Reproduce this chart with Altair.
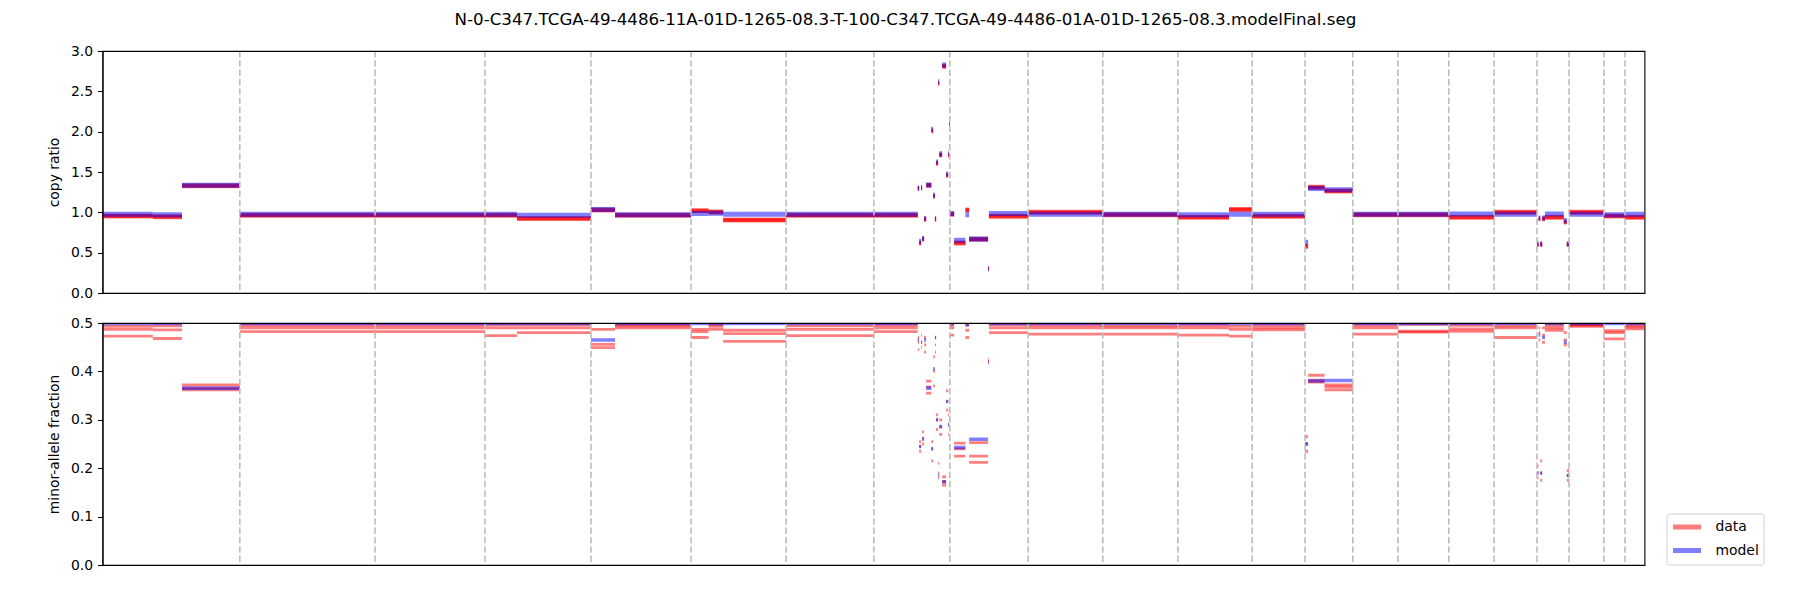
import altair as alt
import pandas as pd

TITLE = "N-0-C347.TCGA-49-4486-11A-01D-1265-08.3-T-100-C347.TCGA-49-4486-01A-01D-1265-08.3.modelFinal.seg"

# chromosome boundaries (cumulative genomic position, Mb) - starts of chr2..chr22
chrom_bounds = [249.2, 494.6, 694.0, 886.4, 1068.1, 1240.5, 1399.8, 1537.6, 1679.7,
                1815.2, 1951.5, 2086.2, 2182.2, 2268.9, 2350.8, 2443.1, 2525.2,
                2603.1, 2661.3, 2724.5, 2762.8]
genome_end = 2798.2

seg_start = [0.0, 91.2, 144.3, 249.2, 494.6, 694.0, 752.1, 886.4, 930.1, 1068.1,
             1099.8, 1126.3, 1240.5, 1399.8, 1479.4, 1481.9, 1485.5, 1487.3, 1490.9, 1494.6,
             1504.0, 1507.3, 1510.6, 1512.7, 1516.3, 1518.4, 1523.6, 1530.8, 1534.5, 1536.3,
             1537.6, 1545.4, 1565.9, 1572.6, 1607.0, 1608.5, 1679.7, 1815.2, 1951.5, 2044.2,
             2086.2, 2182.2, 2187.7, 2217.6, 2268.9, 2350.8, 2443.1, 2525.2, 2603.1, 2606.0,
             2609.0, 2612.5, 2617.5, 2651.7, 2657.2, 2661.3, 2724.5, 2762.8]
seg_end = [91.2, 144.3, 249.2, 494.6, 694.0, 752.1, 886.4, 930.1, 1068.1, 1099.8,
           1126.3, 1240.5, 1399.8, 1479.4, 1481.9, 1485.5, 1487.3, 1490.9, 1494.6, 1504.0,
           1507.3, 1510.6, 1512.7, 1516.3, 1518.4, 1523.6, 1530.8, 1534.5, 1536.3, 1537.6,
           1545.4, 1565.9, 1572.6, 1607.0, 1608.5, 1679.7, 1815.2, 1951.5, 2044.2, 2086.2,
           2182.2, 2187.7, 2217.6, 2268.9, 2350.8, 2443.1, 2525.2, 2603.1, 2606.0, 2609.0,
           2612.5, 2617.5, 2651.7, 2657.2, 2661.3, 2724.5, 2762.8, 2798.2]
cr_data = [0.955, 0.945, 1.330, 0.965, 0.965, 0.965, 0.925, 1.030, 0.965, 1.020,
           1.005, 0.905, 0.965, 0.965, 1.300, 0.620, 1.300, 0.670, 0.915, 1.335,
           2.010, 1.200, 0.915, 1.610, 2.600, 1.710, 2.810, 1.460, 1.710, 2.100,
           0.975, 0.620, 1.030, 0.665, 0.300, 0.950, 1.000, 0.970, 0.940, 1.035,
           0.950, 0.580, 1.310, 1.265, 0.970, 0.970, 0.940, 1.000, 0.600, 0.920,
           0.600, 0.920, 0.940, 0.880, 0.600, 1.000, 0.955, 0.940]
cr_model = [0.975, 0.970, 1.335, 0.975, 0.975, 0.975, 0.965, 1.035, 0.970, 0.985,
            0.990, 0.975, 0.975, 0.975, 1.300, 0.640, 1.310, 0.675, 0.925, 1.340,
            2.030, 1.215, 0.925, 1.625, 2.620, 1.725, 2.825, 1.475, 1.725, 2.115,
            0.985, 0.655, 0.970, 0.670, 0.300, 0.985, 0.975, 0.975, 0.970, 0.975,
            0.975, 0.630, 1.295, 1.280, 0.975, 0.975, 0.980, 0.975, 0.610, 0.930,
            0.610, 0.930, 0.980, 0.900, 0.610, 0.975, 0.970, 0.975]
maf_model = [0.499, 0.499, 0.365, 0.499, 0.499, 0.499, 0.499, 0.465, 0.499, 0.499,
             0.499, 0.499, 0.499, 0.499, 0.465, 0.245, 0.460, 0.260, 0.465, 0.365,
             0.240, 0.405, 0.470, 0.300, 0.185, 0.286, 0.172, 0.338, 0.290, 0.260,
             0.499, 0.243, 0.497, 0.260, 0.420, 0.499, 0.499, 0.499, 0.499, 0.499,
             0.499, 0.250, 0.380, 0.381, 0.499, 0.499, 0.499, 0.499, 0.190, 0.475,
             0.190, 0.470, 0.499, 0.460, 0.185, 0.499, 0.499, 0.499]
maf_d10 = [0.473, 0.468, 0.362, 0.482, 0.482, 0.474, 0.480, 0.449, 0.490, 0.470,
           0.487, 0.462, 0.474, 0.482, 0.445, 0.235, 0.450, 0.250, 0.440, 0.355,
           0.215, 0.370, 0.440, 0.280, 0.180, 0.270, 0.165, 0.320, 0.270, 0.240,
           0.475, 0.225, 0.470, 0.212, 0.418, 0.480, 0.477, 0.477, 0.475, 0.473,
           0.486, 0.235, 0.378, 0.362, 0.477, 0.481, 0.483, 0.470, 0.180, 0.465,
           0.175, 0.460, 0.485, 0.455, 0.175, 0.493, 0.467, 0.488]
maf_d50 = [0.487, 0.486, 0.366, 0.490, 0.490, 0.490, 0.490, 0.456, 0.494, 0.482,
           0.493, 0.478, 0.487, 0.490, 0.460, 0.245, 0.460, 0.262, 0.455, 0.368,
           0.240, 0.400, 0.455, 0.300, 0.190, 0.285, 0.172, 0.338, 0.290, 0.260,
           0.490, 0.240, 0.485, 0.225, 0.420, 0.490, 0.490, 0.490, 0.490, 0.487,
           0.490, 0.250, 0.382, 0.368, 0.490, 0.483, 0.488, 0.490, 0.190, 0.480,
           0.190, 0.475, 0.490, 0.465, 0.185, 0.495, 0.480, 0.492]
maf_d90 = [0.493, 0.494, 0.372, 0.495, 0.495, 0.496, 0.496, 0.487, 0.497, 0.487,
           0.497, 0.485, 0.494, 0.495, 0.470, 0.255, 0.475, 0.275, 0.470, 0.380,
           0.255, 0.430, 0.470, 0.310, 0.210, 0.300, 0.182, 0.360, 0.310, 0.280,
           0.495, 0.252, 0.495, 0.253, 0.425, 0.496, 0.495, 0.494, 0.495, 0.493,
           0.495, 0.265, 0.392, 0.372, 0.495, 0.497, 0.495, 0.494, 0.205, 0.490,
           0.215, 0.490, 0.495, 0.480, 0.195, 0.497, 0.484, 0.495]

cr_ticks = [0.0, 0.5, 1.0, 1.5, 2.0, 2.5, 3.0]
maf_ticks = [0.0, 0.1, 0.2, 0.3, 0.4, 0.5]

segs = pd.DataFrame({
    "start": seg_start, "end": seg_end,
    "cr_d": cr_data, "cr_m": cr_model,
    "maf_m": maf_model, "d10": maf_d10, "d50": maf_d50, "d90": maf_d90,
})
bounds_df = pd.DataFrame({"pos": chrom_bounds})

W, H = 1542, 242
FONT = "DejaVu Sans"
FS = 13.9
xs = alt.Scale(domain=[0, genome_end], nice=False, zero=False)
xaxis = alt.Axis(orient="top", labels=False, ticks=False, title=None, grid=False,
                 domainColor="black", domainWidth=1.1, zindex=1)


def yaxis(title, vals):
    return alt.Axis(title=title, values=vals, format=".1f", grid=False,
                    tickColor="black", tickSize=5, tickWidth=1.1,
                    domainColor="black", domainWidth=1.1, labelPadding=5,
                    labelColor="black", titleColor="black", zindex=1, titlePadding=9,
                    labelFont=FONT, labelFontSize=FS, titleFont=FONT, titleFontSize=FS,
                    titleFontWeight="normal")


def vlines():
    return alt.Chart(bounds_df).mark_rule(
        color="#bdbdbd", strokeWidth=1.6, strokeDash=[6.5, 2.8]
    ).encode(x=alt.X("pos:Q", scale=xs, axis=xaxis))


cr_scale = alt.Scale(domain=[0, 3], nice=False, zero=False)
maf_scale = alt.Scale(domain=[0, 0.5], nice=False, zero=False)
cr_axis = yaxis("copy ratio", cr_ticks)
maf_axis = yaxis("minor-allele fraction", maf_ticks)

base = alt.Chart(segs)

top_layers = []
for w in (5, 4, 3):
    top_layers.append(base.mark_rule(color="#ff0000", opacity=0.5, strokeWidth=w, clip=True).encode(
        x=alt.X("start:Q", scale=xs, axis=xaxis), x2="end:Q",
        y=alt.Y("cr_d:Q", scale=cr_scale, axis=cr_axis)))
top_layers.append(base.mark_rule(color="#0000ff", opacity=0.5, strokeWidth=5, clip=True).encode(
    x=alt.X("start:Q", scale=xs, axis=xaxis), x2="end:Q",
    y=alt.Y("cr_m:Q", scale=cr_scale, axis=cr_axis)))
top_layers.append(vlines())
top = alt.layer(*top_layers).properties(width=W, height=H)

color_enc = alt.Color(
    "series:N",
    scale=alt.Scale(domain=["data", "model"], range=["#ff0000", "#0000ff"]),
    legend=alt.Legend(title=None, orient="none", legendX=1564, legendY=462.5,
                      symbolType="M-1,0H3", symbolStrokeWidth=5, symbolSize=196,
                      symbolOpacity=0.5, symbolFillColor="transparent",
                      labelFontSize=FS, labelFont=FONT,
                      labelColor="black", padding=4, rowPadding=2.5, labelOffset=26,
                      strokeColor="#d0d0d0", cornerRadius=3, fillColor="white",
                      direction="vertical"),
)

bot_layers = []
for col in ("d10", "d50", "d90"):
    bot_layers.append(base.transform_calculate(series="'data'").mark_rule(
        opacity=0.5, strokeWidth=2.8, clip=True).encode(
        x=alt.X("start:Q", scale=xs, axis=xaxis), x2="end:Q",
        y=alt.Y(f"{col}:Q", scale=maf_scale, axis=maf_axis),
        color=color_enc))
bot_layers.append(base.transform_calculate(series="'model'").mark_rule(
    opacity=0.5, strokeWidth=3.5, clip=True).encode(
    x=alt.X("start:Q", scale=xs, axis=xaxis), x2="end:Q",
    y=alt.Y("maf_m:Q", scale=maf_scale, axis=maf_axis),
    color=color_enc))
bot_layers.append(vlines())
bottom = alt.layer(*bot_layers).properties(width=W, height=H)

chart = alt.VConcatChart(vconcat=[top, bottom], spacing=30, bounds="flush").properties(
    title=alt.TitleParams(TITLE, fontSize=16.7, font=FONT, fontWeight="normal",
                          color="black", anchor="middle", frame="bounds", offset=14.6),
    padding={"left": 46.5, "top": 12, "right": 10, "bottom": 10},
).configure(background="white").configure_view(
    stroke="black", strokeWidth=1.1
).configure_axis(
    labelFont=FONT, titleFont=FONT, labelFontSize=FS, titleFontSize=FS,
    titleFontWeight="normal"
)

chart.save("out.html", embed_options={"renderer": "svg", "actions": False})
